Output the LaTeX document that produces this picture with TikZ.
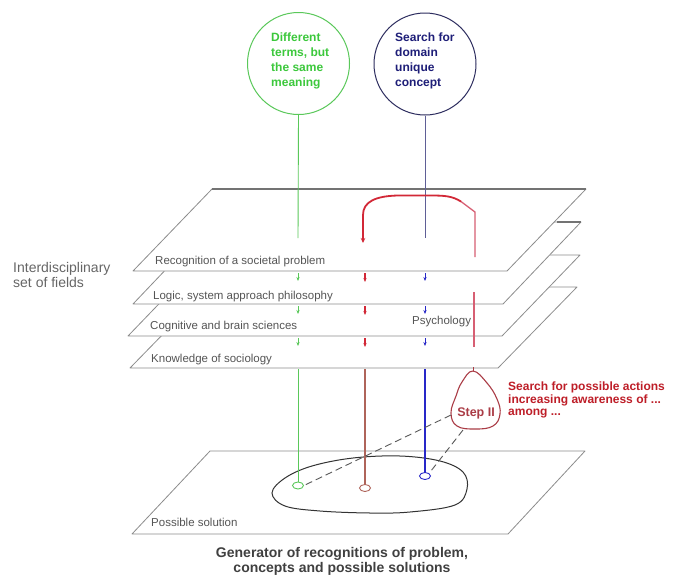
\documentclass[tikz,border=0pt]{standalone}
\usepackage{fontspec}
\setmainfont{Liberation Sans}
\usetikzlibrary{arrows.meta,shapes.geometric}
\definecolor{cgreen}{RGB}{90,200,90}
\definecolor{tgreen}{RGB}{60,200,60}
\definecolor{navyc}{RGB}{45,45,95}
\definecolor{navyt}{RGB}{30,30,120}
\definecolor{bluel}{RGB}{95,95,150}
\definecolor{blueb}{RGB}{40,40,200}
\definecolor{redarc}{RGB}{210,40,55}
\definecolor{redlight}{RGB}{215,95,115}
\definecolor{brownl}{RGB}{175,100,90}
\definecolor{stepc}{RGB}{170,60,70}
\definecolor{redtext}{RGB}{190,30,40}
\definecolor{planec}{RGB}{140,140,140}
\definecolor{labelc}{RGB}{85,85,85}
\begin{document}
\begin{tikzpicture}[x=1pt,y=-1pt,
  plane/.style={draw=planec,fill=white,line width=0.8pt,line join=round},
  bubble/.style={circle,draw,line width=1pt,minimum size=102pt,inner sep=0pt},
  bubbletext/.style={anchor=north west,align=left,inner sep=0pt,font=\bfseries\fontsize{12}{15}\selectfont},
  planelabel/.style={anchor=base west,inner sep=0pt,text=labelc,font=\fontsize{11.5}{13}\selectfont},
  stub/.style={-{Stealth[length=4pt,width=3.2pt]},line width=0.8pt},
  smallell/.style={ellipse,draw,line width=0.9pt,minimum width=11pt,minimum height=7pt,inner sep=0pt},
  dashline/.style={draw=black!65,line width=0.9pt,dash pattern=on 7pt off 4pt}]
\useasboundingbox (0,0) rectangle (686,576);
\fill[white] (0,0) rectangle (686,576);

% bubbles
\node[bubble,draw=cgreen] (cg) at (298.5,63.5) {};
\node[bubble,draw=navyc] (cb) at (425,64) {};
\node[bubbletext,text=tgreen] (tg) at (271,33) {Different\\terms, but\\the same\\meaning};
\node[bubbletext,text=navyt] (tb) at (395,33) {Search for\\domain\\unique\\concept};

% left label
\node[anchor=base west,inner sep=0pt,align=left,text=black!60,font=\fontsize{14}{15}\selectfont] (il) at (13,272) {Interdisciplinary};
\node[anchor=base west,inner sep=0pt,text=black!60,font=\fontsize{14}{15}\selectfont] (il2) at (13,287) {set of fields};

% bottom plane
\path[plane] (132,534) -- (508,534) -- (585,451) -- (210,451) -- cycle;
\node[planelabel] (ps) at (151,526) {Possible solution};

% stacked planes
\path[plane] (130,368) -- (498,368) -- (577,287) -- (209,287) -- cycle;
\path[plane] (128,336) -- (502,336) -- (580,255) -- (206,255) -- cycle;
\path[plane] (133,304) -- (503,304) -- (581,222) -- (211,222) -- cycle;
\path[plane] (133,271) -- (507,271) -- (586,189) -- (212,189) -- cycle;
\draw[draw=black!55,line width=1.1pt] (212,189) -- (586,189);
\draw[draw=black!55,line width=1.1pt] (557,222) -- (581,222);

\node[planelabel] (l1) at (155,264) {Recognition of a societal problem};
\node[planelabel] (l2) at (153,299) {Logic, system approach philosophy};
\node[planelabel] (l3) at (150,329) {Cognitive and brain sciences};
\node[planelabel] (l4) at (151,362) {Knowledge of sociology};
\node[planelabel] (lp) at (412,324) {Psychology};

% top vertical lines
\coordinate (gend) at (298,238);
\coordinate (bend) at (425,238);
\draw[cgreen,line width=0.9pt] (cg.south) -- (gend);
\draw[bluel,line width=1pt] (cb.south) -- (bend);

% red arc
\coordinate (rstart) at (475,257);
\coordinate (rend) at (363,243);
\draw[redlight,line width=1.3pt] (rstart) -- (475,212) -- (461,201.5);
\draw[redarc,line width=1.8pt,-{Stealth[length=5pt,width=4.5pt]}]
  (461,201.5) .. controls (452,196) and (445,195.5) .. (430,195.5)
  -- (398,195.5) .. controls (375,196) and (363,202) .. (363,215) -- (rend);

% stubs between planes
\foreach \yy in {273,306,338}{
  \draw[stub,cgreen] (298,\yy) -- (298,\yy+8);
  \draw[stub,redarc,line width=1.4pt] (365,\yy) -- (365,\yy+9);
  \draw[stub,blueb] (425,\yy) -- (425,\yy+8);
}
\draw[redlight,line width=1.5pt] (474,292) -- (474,347);

% solution region
\draw[black!80,line width=1pt] plot[smooth cycle,tension=0.6] coordinates
  {(272,493) (285,478) (312,466) (353,458) (400,456) (440,461) (463,472) (467,489) (455,505) (410,512) (370,513) (320,511) (285,506)};

% small ellipses
\node[smallell,draw=cgreen] (ge) at (298,485.5) {};
\node[smallell,draw=brownl] (be) at (365,488) {};
\node[smallell,draw=blueb] (ue) at (425,476) {};
\draw[cgreen,line width=1pt] (298,369) -- (ge.north);
\draw[brownl,line width=1.1pt] (365,369) -- (be.north);
\draw[blueb,line width=1.1pt] (425,369) -- (ue.north);

% step II
\draw[stepc,line width=1.1pt] plot[smooth cycle,tension=0.7] coordinates
  {(473,371) (487,383) (497,399) (500,414) (493,426) (475,429) (457,426) (451,413) (456,396) (462,382)};
\draw[stepc,line width=1pt] (473,367) -- (473,371);
\node[inner sep=0pt,text=stepc,font=\bfseries\fontsize{12.5}{14}\selectfont] (st) at (476,413) {Step II};
\coordinate (sa) at (451,415);
\coordinate (sb) at (463,430);
\draw[dashline] (sa) -- (ge.east);
\draw[dashline] (sb) -- (ue.north east);

% red text
\node[anchor=north west,align=left,inner sep=0pt,text=redtext,font=\bfseries\fontsize{12}{12.5}\selectfont] (rt) at (508,382)
  {Search for possible actions\\increasing awareness of ...\\among ...};

% caption
\node[anchor=north,align=center,inner sep=0pt,text=black!75,font=\bfseries\fontsize{14}{15}\selectfont] (cap) at (342,547)
  {Generator of recognitions of problem,\\concepts and possible solutions};
\end{tikzpicture}
\end{document}
